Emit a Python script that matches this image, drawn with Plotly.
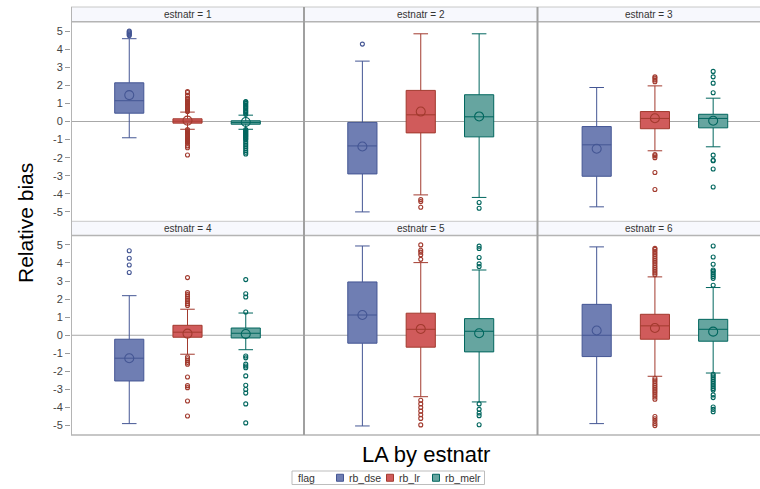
import plotly.graph_objects as go

# ---------------- data ----------------
panels = [1, 2, 3, 4, 5, 6]
flags = ["rb_dse", "rb_lr", "rb_melr"]
y_ticks = [-5, -4, -3, -2, -1, 0, 1, 2, 3, 4, 5]

dse_low = [-0.90, -5.00, -4.72, -4.89, -5.02, -4.89]
dse_q1 = [0.46, -2.90, -3.03, -2.53, -0.44, -1.18]
dse_med = [1.15, -1.35, -1.29, -1.27, 1.12, 0.00]
dse_q3 = [2.14, -0.05, -0.28, -0.22, 2.95, 1.71]
dse_up = [4.58, 3.34, 1.88, 2.19, 4.94, 4.89]
dse_mean = [1.46, -1.38, -1.51, -1.27, 1.12, 0.26]

lr_low = [-0.43, -4.06, -1.62, -1.05, -3.40, -2.27]
lr_q1 = [-0.09, -0.63, -0.40, -0.11, -0.66, -0.22]
lr_med = [0.02, 0.37, 0.17, 0.17, 0.33, 0.52]
lr_q3 = [0.15, 1.72, 0.55, 0.55, 1.22, 1.16]
lr_up = [0.52, 4.85, 1.97, 1.44, 4.02, 3.23]
lr_mean = [0.05, 0.55, 0.18, 0.09, 0.35, 0.40]

melr_low = [-0.43, -4.20, -1.40, -0.80, -3.69, -2.09]
melr_q1 = [-0.15, -0.85, -0.35, -0.15, -0.92, -0.33]
melr_med = [-0.05, 0.26, 0.17, 0.11, 0.22, 0.33]
melr_q3 = [0.04, 1.48, 0.40, 0.40, 0.92, 0.88]
melr_up = [0.35, 4.85, 1.29, 1.23, 3.61, 2.64]
melr_mean = [-0.03, 0.28, 0.04, 0.07, 0.11, 0.20]

dse_out = [
    [4.75, 4.8, 4.85, 4.9, 4.95, 5.0],
    [4.28],
    [],
    [3.47, 3.89, 4.26, 4.68],
    [],
    [],
]
lr_out = [
    [0.55, 0.6, 0.65, 0.7, 0.75, 0.8, 0.85, 0.9, 0.95, 1.0, 1.05, 1.1, 1.15, 1.2,
     1.25, 1.3, 1.45, 1.6, 1.65, -0.45, -0.5, -0.55, -0.6, -0.65, -0.7, -0.75,
     -0.8, -0.85, -0.9, -0.95, -1.0, -1.05, -1.1, -1.15, -1.2, -1.35, -1.45, -1.85],
    [-4.32, -4.43, -4.74],
    [2.2, 2.3, 2.4, 2.47, -1.83, -1.9, -2.0, -2.82, -3.76],
    [1.65, 1.75, 1.85, 1.95, 2.05, 2.15, 2.25, 2.36, 3.19, -1.2, -1.3, -1.4, -1.5,
     -1.6, -2.31, -2.79, -2.9, -3.64, -4.47],
    [4.2, 4.45, 4.6, 4.7, 5.0, -3.6, -3.8, -4.0, -4.2, -4.4, -4.6, -4.96],
    [3.35, 3.45, 3.55, 3.65, 3.75, 3.85, 3.95, 4.05, 4.15, 4.25, 4.35, 4.45, 4.55,
     4.65, 4.75, 4.81, -2.38, -2.48, -2.58, -2.68, -2.78, -2.88, -2.98, -3.08,
     -3.18, -3.3, -3.42, -3.54, -4.5, -4.62, -4.75, -4.88, -5.0],
]
melr_out = [
    [0.4, 0.48, 0.55, 0.62, 0.7, 0.78, 0.85, 0.92, 1.0, 1.07, 1.1,
     -0.45, -0.5, -0.55, -0.6, -0.65, -0.7, -0.75, -0.8, -0.85, -0.9, -0.95,
     -1.0, -1.1, -1.2, -1.3, -1.4, -1.5, -1.6, -1.7, -1.8],
    [-4.48, -4.8],
    [1.59, 2.12, 2.47, 2.77, -1.86, -2.14, -2.17, -2.63, -3.62],
    [1.29, 2.12, 2.3, 3.08, -1.15, -1.25, -1.6, -1.7, -1.8, -2.25, -2.77, -3.0,
     -3.2, -3.8, -4.85],
    [3.8, 3.95, 4.3, 4.8, 4.93, -3.8, -4.1, -4.3, -4.45, -4.95],
    [2.77, 3.15, 3.25, 3.35, 3.45, 3.55, 3.61, 3.93, 4.33, 4.94, -2.16, -2.25,
     -2.35, -2.45, -2.55, -2.65, -2.75, -2.85, -2.95, -3.03, -3.3, -3.45, -3.97,
     -4.1, -4.23],
]

fill_colors = ["#6F7EB3", "#D05B5B", "#66A5A0"]
line_colors = ["#445694", "#A23A2E", "#01665E"]

stats = [
    (dse_low, dse_q1, dse_med, dse_q3, dse_up, dse_mean, dse_out),
    (lr_low, lr_q1, lr_med, lr_q3, lr_up, lr_mean, lr_out),
    (melr_low, melr_q1, melr_med, melr_q3, melr_up, melr_mean, melr_out),
]

# ---------------- layout geometry (pixels) ----------------
W, H = 760, 489
ML, MR, MT, MB = 71, 0, 7, 54
PW, PH = W - ML - MR, H - MT - MB


def px(xp):
    return (xp - ML) / PW


def py(yp):
    return (H - MB - yp) / PH


col_px = [(71, 304), (304, 537.5), (537.5, 760)]
row_px = [(21.7, 221.3), (235.5, 435)]  # plot areas (top, bottom)
hdr_px = [(7, 21.7), (221.3, 235.5)]
x_ranges = [[-1, 3], [-1, 3], [-1.016, 2.804]]

fig = go.Figure()
layout = dict(
    width=W, height=H,
    margin=dict(l=ML, r=MR, t=MT, b=MB),
    paper_bgcolor="white", plot_bgcolor="white",
    font=dict(family="Liberation Sans, Arial, sans-serif", color="#333333"),
    showlegend=False,
)
shapes = []
annotations = []

for i, p in enumerate(panels):
    r, c = divmod(i, 3)
    ax = "" if i == 0 else str(i + 1)
    xa, ya = "x" + ax, "y" + ax
    x0, x1 = col_px[c]
    yt, yb = row_px[r]
    layout["xaxis" + ax] = dict(
        domain=[px(x0), px(x1)], range=x_ranges[c], showgrid=False,
        zeroline=False, showticklabels=False, ticks="", showline=False,
        anchor=ya, fixedrange=True,
    )
    left = c == 0
    layout["yaxis" + ax] = dict(
        domain=[py(yb), py(yt)], range=[-5.52, 5.52], showgrid=False,
        zeroline=False, tickvals=y_ticks if left else [],
        ticktext=[str(v) for v in y_ticks] if left else [],
        showticklabels=left, ticks="outside" if left else "",
        ticklen=5, tickcolor="#9A9A9A", tickwidth=1,
        tickfont=dict(size=11, color="#444444"), showline=False,
        anchor=xa, fixedrange=True,
    )
    # reference line at 0
    shapes.append(dict(type="line", xref=xa + " domain", yref=ya, x0=0, x1=1,
                       y0=0, y1=0, line=dict(color="#A8A8A8", width=1),
                       layer="below"))
    for k in range(3):
        low, q1, med, q3, up, mean, out = stats[k]
        fig.add_trace(go.Box(
            x=[k], q1=[q1[i]], median=[med[i]], q3=[q3[i]],
            lowerfence=[low[i]], upperfence=[up[i]],
            width=0.5, whiskerwidth=0.5, fillcolor=fill_colors[k],
            line=dict(color=line_colors[k], width=1), opacity=1,
            xaxis=xa, yaxis=ya, showlegend=False, name=flags[k],
            hoverinfo="skip",
        ))
        if out[i]:
            fig.add_trace(go.Scatter(
                x=[k] * len(out[i]), y=out[i], mode="markers",
                marker=dict(symbol="circle-open", size=4, color=line_colors[k],
                            line=dict(width=1.1)),
                xaxis=xa, yaxis=ya, showlegend=False, hoverinfo="skip",
            ))
        fig.add_trace(go.Scatter(
            x=[k], y=[mean[i]], mode="markers",
            marker=dict(symbol="circle-open", size=9, color=line_colors[k],
                        line=dict(width=1.1)),
            xaxis=xa, yaxis=ya, showlegend=False, hoverinfo="skip",
        ))
    # header strip
    ht, hb = hdr_px[r]
    shapes.append(dict(type="rect", xref="paper", yref="paper",
                       x0=px(x0), x1=px(x1), y0=py(hb), y1=py(ht),
                       fillcolor="#F7F8FD", line=dict(width=0), layer="below"))
    annotations.append(dict(text=f"estnatr = {p}", xref="paper", yref="paper",
                            x=(px(x0) + px(x1)) / 2, y=(py(hb) + py(ht)) / 2,
                            showarrow=False, xanchor="center", yanchor="middle",
                            font=dict(size=10, color="#333333")))

# frame lines
gray = "#B4B4B4"
dark = "#A0A0A0"
for (ht, hb) in hdr_px:
    shapes.append(dict(type="line", xref="paper", yref="paper", x0=px(71), x1=1,
                       y0=py(ht), y1=py(ht), line=dict(color="#C8C8C8", width=1)))
    shapes.append(dict(type="line", xref="paper", yref="paper", x0=px(71), x1=1,
                       y0=py(hb), y1=py(hb), line=dict(color=gray, width=1.5)))
shapes.append(dict(type="line", xref="paper", yref="paper", x0=px(71), x1=1,
                   y0=py(435), y1=py(435), line=dict(color=gray, width=1.5)))
shapes.append(dict(type="line", xref="paper", yref="paper", x0=px(71.5), x1=px(71.5),
                   y0=py(435), y1=py(7), line=dict(color=gray, width=1)))
for xs in (304, 537.5):
    shapes.append(dict(type="line", xref="paper", yref="paper", x0=px(xs), x1=px(xs),
                       y0=py(435), y1=py(7), line=dict(color=dark, width=2)))

# axis titles
annotations.append(dict(text="Relative bias", xref="paper", yref="paper",
                        x=px(25), y=py(223), textangle=-90, showarrow=False,
                        xanchor="center", yanchor="middle",
                        font=dict(size=21, color="#000000")))
annotations.append(dict(text="LA by estnatr", xref="paper", yref="paper",
                        x=px(425.5), y=py(455), showarrow=False,
                        xanchor="center", yanchor="middle",
                        font=dict(size=22, color="#000000")))

# legend (drawn as a framed key under the x title)
leg_top, leg_bot = 471, 484.5
leg_mid = (leg_top + leg_bot) / 2
shapes.append(dict(type="rect", xref="paper", yref="paper", x0=px(292), x1=px(484.5),
                   y0=py(leg_bot), y1=py(leg_top), line=dict(color="#BDBDBD", width=1),
                   fillcolor="white"))
annotations.append(dict(text="flag", xref="paper", yref="paper", x=px(295.5),
                        y=py(leg_mid), xanchor="left", yanchor="middle",
                        showarrow=False, font=dict(size=10.5, color="#333333")))
leg_sq_x = [336.5, 386.5, 432.5]
for k in range(3):
    sx = leg_sq_x[k]
    shapes.append(dict(type="rect", xref="paper", yref="paper", x0=px(sx),
                       x1=px(sx + 7), y0=py(leg_mid + 3.5), y1=py(leg_mid - 3.5),
                       fillcolor=fill_colors[k],
                       line=dict(color=line_colors[k], width=1)))
    annotations.append(dict(text=flags[k], xref="paper", yref="paper",
                            x=px(sx + 10.5), y=py(leg_mid), xanchor="left",
                            yanchor="middle", showarrow=False,
                            font=dict(size=10.5, color="#333333")))

layout["shapes"] = shapes
layout["annotations"] = annotations
fig.update_layout(**layout)
fig.write_html("out.html", config={"displayModeBar": False},
               post_script="document.body.style.margin='0px';")
